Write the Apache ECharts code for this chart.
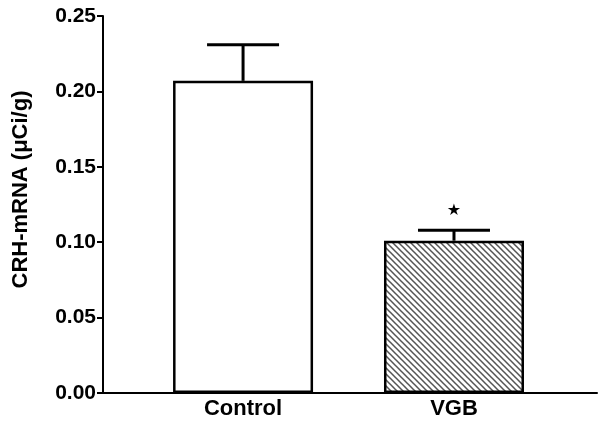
<!DOCTYPE html>
<html>
<head>
<meta charset="utf-8">
<script src="https://cdn.jsdelivr.net/npm/echarts@6/dist/echarts.min.js"></script>
<style>
  html, body { margin: 0; padding: 0; background: #fff; }
  #chart { width: 601px; height: 425px; }
</style>
</head>
<body>
<div id="chart"></div>
<script>
// data
var categories = ['Control', 'VGB'];
var means = [0.207, 0.101];
var errors = [0.024, 0.007];
var starAt = [[1, 0.121]];

// hatch fill for the VGB bar
function hatch() {
  var s = 6;
  var c = document.createElement('canvas');
  c.width = s; c.height = s;
  var g = c.getContext('2d');
  g.fillStyle = '#fff';
  g.fillRect(0, 0, s, s);
  g.strokeStyle = '#555';
  g.lineWidth = 1.5;
  g.beginPath();
  g.moveTo(-1, -1); g.lineTo(s + 1, s + 1);
  g.moveTo(-1, s - 1); g.lineTo(1, s + 1);
  g.moveTo(s - 1, -1); g.lineTo(s + 1, 1);
  g.stroke();
  return c;
}

var chart = echarts.init(document.getElementById('chart'));

var barData = means.map(function (v, i) {
  return {
    value: [i, v],
    itemStyle: i === 1 ? { color: { image: hatch(), repeat: 'repeat' } } : { color: '#fff' }
  };
});

var errData = means.map(function (v, i) { return [i, v, v + errors[i]]; });

var font = 'Liberation Sans, Arial, sans-serif';

var option = {
  backgroundColor: '#fff',
  animation: false,
  grid: { left: 103, right: 4, top: 16, bottom: 32 },
  xAxis: {
    type: 'value',
    min: -0.664,
    max: 1.678,
    splitLine: { show: false },
    axisLine: { onZero: false, lineStyle: { color: '#000', width: 2 } },
    axisTick: { show: false },
    axisLabel: {
      customValues: [0, 1],
      formatter: function (v) { return categories[Math.round(v)]; },
      color: '#000',
      fontFamily: font,
      fontWeight: 'bold',
      fontSize: 22,
      margin: 5
    }
  },
  yAxis: {
    type: 'value',
    min: 0,
    max: 0.25,
    interval: 0.05,
    name: 'CRH-mRNA (\u03bcCi/g)',
    nameLocation: 'middle',
    nameGap: 71,
    nameTextStyle: {
      color: '#000',
      fontFamily: font,
      fontWeight: 'bold',
      fontSize: 22,
      padding: [0, 0, 0, 30]
    },
    splitLine: { show: false },
    axisLine: { show: true, onZero: false, lineStyle: { color: '#000', width: 2 } },
    axisTick: { show: true, length: 6, lineStyle: { color: '#000', width: 2 } },
    axisLabel: {
      formatter: function (v) { return v.toFixed(2); },
      color: '#000',
      fontFamily: font,
      fontWeight: 'bold',
      fontSize: 21,
      margin: 7
    }
  },
  series: [
    {
      type: 'bar',
      barWidth: 140,
      data: barData,
      itemStyle: { borderColor: '#000', borderWidth: 2.5 },
      z: 2
    },
    {
      type: 'custom',
      data: errData,
      z: 3,
      renderItem: function (params, api) {
        var base = api.coord([api.value(0), api.value(1)]);
        var top = api.coord([api.value(0), api.value(2)]);
        var hw = 36;
        return {
          type: 'group',
          children: [
            { type: 'line', shape: { x1: base[0], y1: base[1], x2: top[0], y2: top[1] }, style: { stroke: '#000', lineWidth: 3 } },
            { type: 'line', shape: { x1: top[0] - hw, y1: top[1], x2: top[0] + hw, y2: top[1] }, style: { stroke: '#000', lineWidth: 3 } }
          ]
        };
      }
    },
    {
      type: 'custom',
      data: starAt,
      z: 3,
      renderItem: function (params, api) {
        var p = api.coord([api.value(0), api.value(1)]);
        return {
          type: 'text',
          x: p[0], y: p[1],
          style: { text: '\u2605', fill: '#000', fontSize: 16, align: 'center', verticalAlign: 'middle', fontFamily: 'DejaVu Sans' }
        };
      }
    }
  ]
};

chart.setOption(option);
</script>
</body>
</html>
